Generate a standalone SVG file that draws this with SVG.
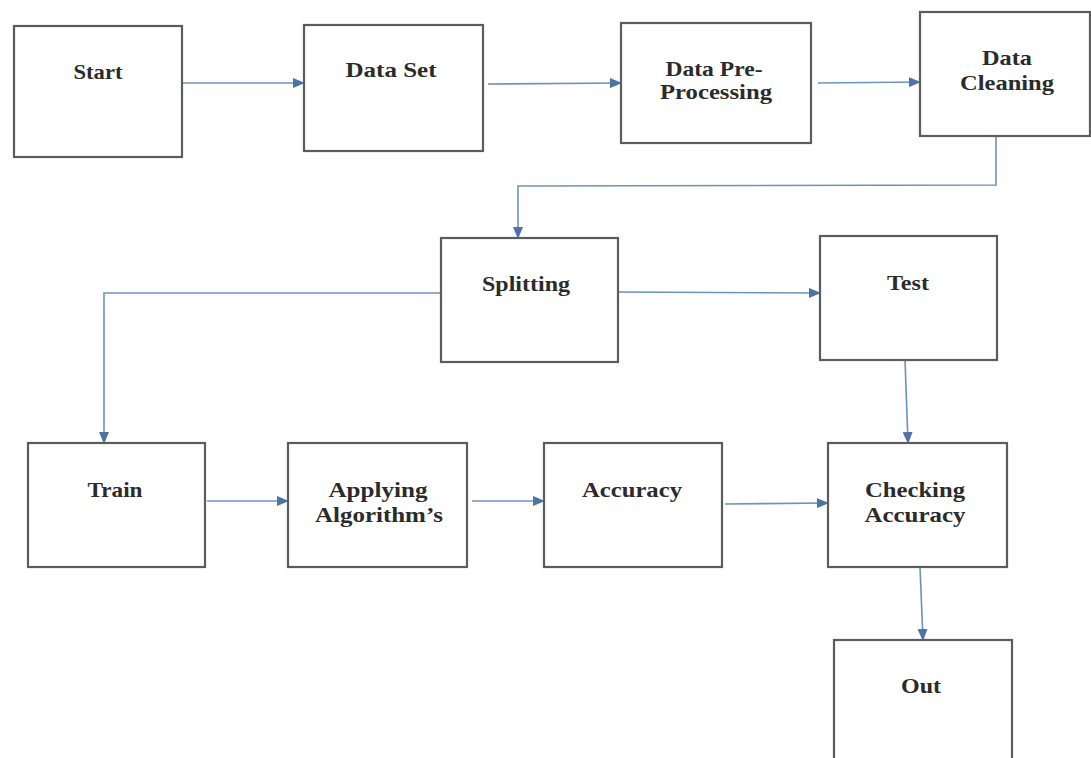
<svg xmlns="http://www.w3.org/2000/svg" width="1091" height="758" viewBox="0 0 1091 758">
  <style>
    .box { fill: #ffffff; stroke: #5c5c5c; stroke-width: 2.2; }
    .lbl { font-family: "Liberation Serif", "Times New Roman", serif; font-size: 21px; font-weight: bold; fill: #2b2b2b; text-anchor: middle; }
    .con { fill: none; stroke: #6f91bd; stroke-width: 1.6; marker-end: url(#arr); }
  </style>
  <defs>
    <marker id="arr" markerUnits="userSpaceOnUse" markerWidth="12" markerHeight="10" refX="11" refY="5" orient="auto">
      <path d="M0,0 L12,5 L0,10 Z" fill="#4d73a6"/>
    </marker>
  </defs>
  <rect width="1091" height="758" fill="#ffffff"/>

  <g id="connectors">
    <path class="con" d="M182,83 L304,83"/>
    <path class="con" d="M488,84 L621,83"/>
    <path class="con" d="M818,83 L920,82"/>
    <path class="con" d="M996,137 L996,185 L518,186 L518,238"/>
    <path class="con" d="M441,293 L104,293 L104,443"/>
    <path class="con" d="M618,292 L820,293"/>
    <path class="con" d="M905,360 L908,443"/>
    <path class="con" d="M207,501 L288,501"/>
    <path class="con" d="M472,501 L544,501"/>
    <path class="con" d="M725,504 L828,503"/>
    <path class="con" d="M920,567 L923,640"/>
  </g>

  <g id="start">
    <rect class="box" x="14" y="26" width="168" height="131"/>
    <text class="lbl" x="98" y="79" textLength="49" lengthAdjust="spacingAndGlyphs">Start</text>
  </g>
  <g id="dataset">
    <rect class="box" x="304" y="25" width="179" height="126"/>
    <text class="lbl" x="391" y="77" textLength="91" lengthAdjust="spacingAndGlyphs">Data Set</text>
  </g>
  <g id="preprocessing">
    <rect class="box" x="621" y="23" width="190" height="120"/>
    <text class="lbl" x="714" y="76" textLength="97" lengthAdjust="spacingAndGlyphs">Data Pre-</text>
    <text class="lbl" x="716" y="99" textLength="112" lengthAdjust="spacingAndGlyphs">Processing</text>
  </g>
  <g id="cleaning">
    <rect class="box" x="920" y="12" width="170" height="124"/>
    <text class="lbl" x="1007" y="65" textLength="50" lengthAdjust="spacingAndGlyphs">Data</text>
    <text class="lbl" x="1007" y="90" textLength="94" lengthAdjust="spacingAndGlyphs">Cleaning</text>
  </g>
  <g id="splitting">
    <rect class="box" x="441" y="238" width="177" height="124"/>
    <text class="lbl" x="526" y="291" textLength="88" lengthAdjust="spacingAndGlyphs">Splitting</text>
  </g>
  <g id="test">
    <rect class="box" x="820" y="236" width="177" height="124"/>
    <text class="lbl" x="908" y="290" textLength="42" lengthAdjust="spacingAndGlyphs">Test</text>
  </g>
  <g id="train">
    <rect class="box" x="28" y="443" width="177" height="124"/>
    <text class="lbl" x="115" y="497" textLength="55" lengthAdjust="spacingAndGlyphs">Train</text>
  </g>
  <g id="applying">
    <rect class="box" x="288" y="443" width="179" height="124"/>
    <text class="lbl" x="378" y="497" textLength="99" lengthAdjust="spacingAndGlyphs">Applying</text>
    <text class="lbl" x="379" y="522" textLength="128" lengthAdjust="spacingAndGlyphs">Algorithm’s</text>
  </g>
  <g id="accuracy">
    <rect class="box" x="544" y="443" width="178" height="124"/>
    <text class="lbl" x="632" y="497" textLength="100" lengthAdjust="spacingAndGlyphs">Accuracy</text>
  </g>
  <g id="checking">
    <rect class="box" x="828" y="443" width="179" height="124"/>
    <text class="lbl" x="915" y="497" textLength="100" lengthAdjust="spacingAndGlyphs">Checking</text>
    <text class="lbl" x="915" y="522" textLength="101" lengthAdjust="spacingAndGlyphs">Accuracy</text>
  </g>
  <g id="out">
    <rect class="box" x="834" y="640" width="178" height="130"/>
    <text class="lbl" x="921" y="693" textLength="40" lengthAdjust="spacingAndGlyphs">Out</text>
  </g>
</svg>
